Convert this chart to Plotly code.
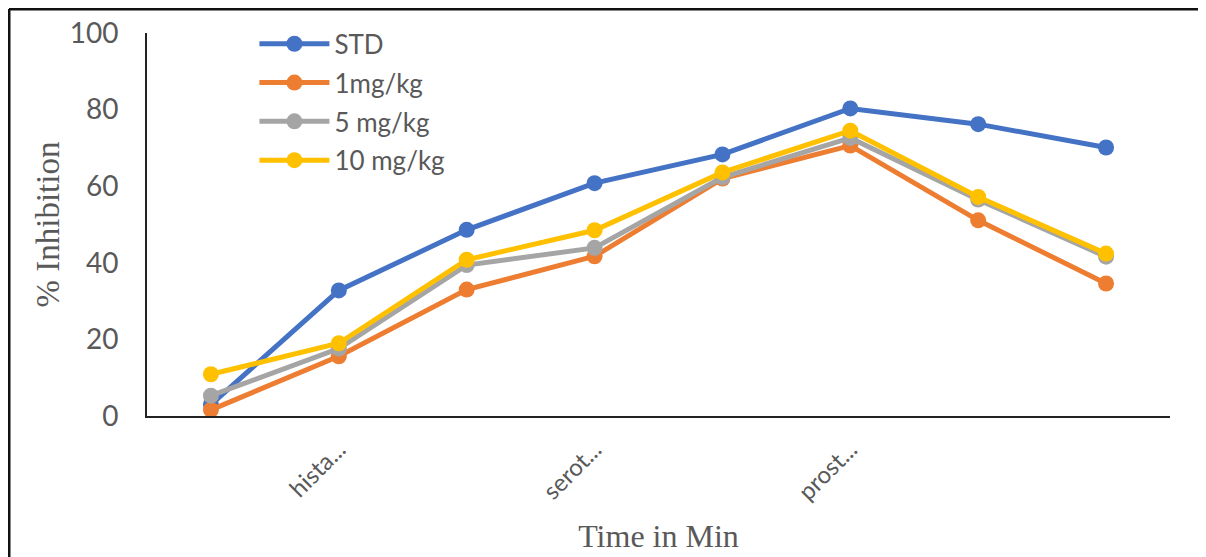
import plotly.graph_objects as go

categories = ["c1", "c2", "c3", "c4", "c5", "c6", "c7", "c8"]
tick_labels = ["", "hista...", "", "serot...", "", "prost...", "", ""]
series_names = ["STD", "1mg/kg", "5 mg/kg", "10 mg/kg"]
std = [3.0, 32.8, 48.6, 60.8, 68.3, 80.3, 76.2, 70.1]
mg1 = [1.6, 15.6, 33.0, 41.7, 62.0, 70.6, 51.1, 34.6]
mg5 = [5.3, 17.6, 39.4, 43.9, 62.3, 72.6, 56.5, 41.6]
mg10 = [10.9, 19.0, 40.8, 48.5, 63.6, 74.5, 57.2, 42.4]
colors = ["#4472C4", "#ED7D31", "#A5A5A5", "#FFC000"]

x_idx = list(range(len(categories)))

fig = go.Figure()
for name, vals, col in zip(series_names, [std, mg1, mg5, mg10], colors):
    fig.add_trace(go.Scatter(
        x=x_idx, y=vals, name=name, mode="lines+markers", legendgroup=name,
        line=dict(color=col, width=5),
        marker=dict(color=col, size=16),
    ))

SANS = "Lato, Noto Sans, sans-serif"
SERIF = "Liberation Serif, Times New Roman, serif"

fig.update_layout(
    width=1206, height=557,
    margin=dict(l=139, r=44, t=25, b=149),
    paper_bgcolor="white", plot_bgcolor="white",
    showlegend=True,
    legend=dict(
        x=0.105, xanchor="left",
        y=1.033, yanchor="top",
        bgcolor="rgba(0,0,0,0)",
        font=dict(family=SANS, size=26, color="#595959"),
        tracegroupgap=2, itemwidth=70,
    ),
    xaxis=dict(
        range=[-0.5, 7.5], automargin=False,
        tickmode="array", tickvals=x_idx, ticktext=tick_labels,
        tickangle=-45, showgrid=False, zeroline=False,
        showline=True, linecolor="#222222", linewidth=2,
        ticks="", ticklabelstandoff=8,
        tickfont=dict(family=SANS, size=24, color="#595959"),
        title=dict(text="Time in Min", standoff=20,
                   font=dict(family=SERIF, size=32, color="#595959")),
    ),
    yaxis=dict(
        range=[0, 100], tickvals=[0, 20, 40, 60, 80, 100], automargin=False,
        showgrid=False, zeroline=False,
        showline=True, linecolor="#222222", linewidth=2,
        ticks="", ticklabelstandoff=21,
        tickfont=dict(family=SANS, size=28, color="#595959"),
        title=dict(text="% Inhibition", standoff=0,
                   font=dict(family=SERIF, size=33, color="#595959")),
    ),
)

# image frame
fig.add_shape(type="line", xref="paper", yref="paper", x0=-0.1349, x1=1.0342, y0=1.0627, y1=1.0627,
              line=dict(color="#111111", width=3))
fig.add_shape(type="line", xref="paper", yref="paper", x0=-0.1349, x1=-0.1349, y0=1.0627, y1=-0.5,
              line=dict(color="#111111", width=3))
fig.add_shape(type="line", xref="paper", yref="paper", x0=1.0342, x1=1.0342, y0=1.0627, y1=-0.5,
              line=dict(color="#666666", width=2))

fig.write_html("out.html")
